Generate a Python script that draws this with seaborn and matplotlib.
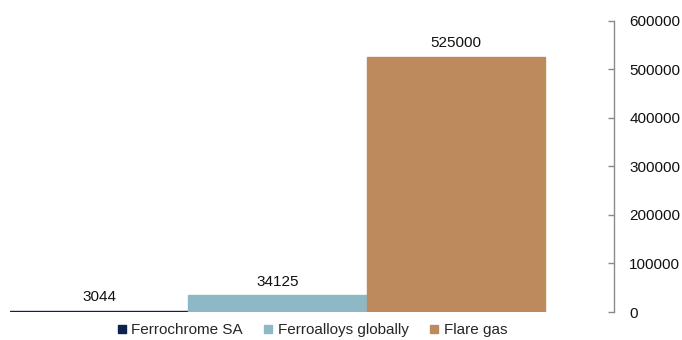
import matplotlib
matplotlib.use("Agg")
import matplotlib.pyplot as plt
from matplotlib.lines import Line2D
import seaborn as sns
import pandas as pd

categories = ["Ferrochrome SA", "Ferroalloys globally", "Flare gas"]
values = [3044, 34125, 525000]
colors = ["#0C2350", "#8EB8C6", "#BD8A5E"]
y_ticks = [0, 100000, 200000, 300000, 400000, 500000, 600000]

sns.set_theme(style="white")
plt.rcParams["font.family"] = ["Liberation Sans", "DejaVu Sans"]

df = pd.DataFrame({"category": categories, "value": values})

fig = plt.figure(figsize=(6.82, 3.40), dpi=100)
ax = fig.add_axes([10 / 682, 28 / 340, 604 / 682, 291.3 / 340])

sns.barplot(data=df, x="category", y="value", hue="category",
            palette=colors, width=1.0, saturation=1, legend=False, ax=ax,
            linewidth=1.0)
for patch, c in zip(ax.patches, colors):
    patch.set_edgecolor(c)

ax.set_xlim(-0.5, 2.884)
ax.set_ylim(0, 600000)
ax.set_yticks(y_ticks)
ax.set_yticklabels([str(t) for t in y_ticks], fontsize=11, color="#111111")
ax.set_xticks([])
ax.set_xlabel("")
ax.set_ylabel("")

# axis on the right, ticks pointing inward
ax.yaxis.tick_right()
ax.tick_params(axis="y", direction="in", length=4, width=1, color="#8a8a8a",
               pad=11, right=True, left=False)
for side in ["left", "top", "bottom"]:
    ax.spines[side].set_visible(False)
ax.spines["right"].set_color("#8a8a8a")
ax.spines["right"].set_linewidth(1)

# value labels above each bar
for i, v in enumerate(values):
    ax.text(i, v + 14000, str(v), ha="center", va="bottom",
            fontsize=11, color="#111111")

handles = [Line2D([0], [0], marker="s", linestyle="none", markersize=5.5,
                  markerfacecolor=c, markeredgecolor=c) for c in colors]
fig.legend(handles, categories, loc="center", bbox_to_anchor=(312 / 682, 10 / 340),
           ncol=3, frameon=False, fontsize=11, handlelength=0.6,
           handletextpad=0.3, columnspacing=1.4, borderaxespad=0)

fig.savefig("out.png", dpi=100)
